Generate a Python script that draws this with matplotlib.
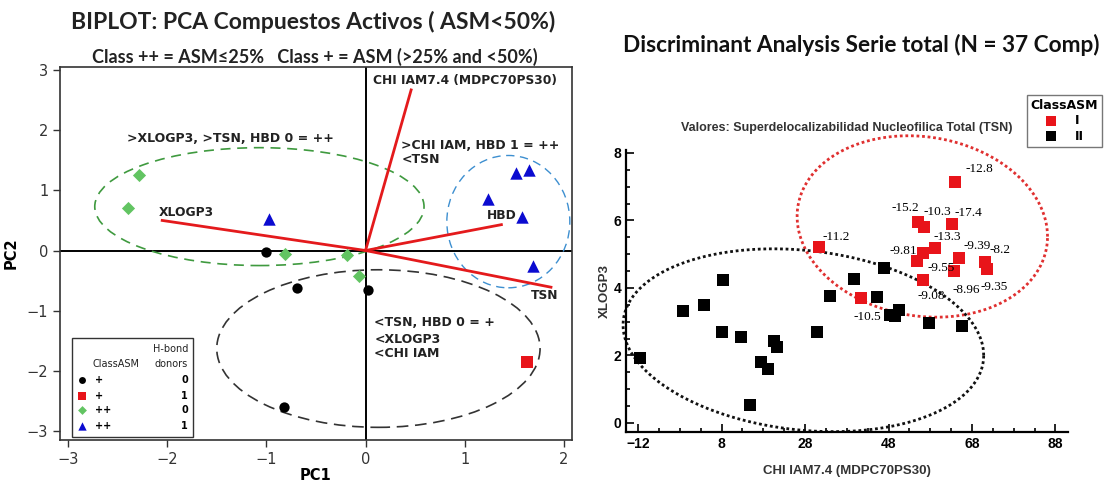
import numpy as np
import matplotlib.pyplot as plt
from matplotlib.patches import Ellipse, Rectangle
from matplotlib.ticker import FixedLocator

# PCA scores of the active compounds (PC1, PC2), split by class and H-bond donors
plus_hbd0_pc1 = [-1.00, -0.69, 0.02, -0.82]
plus_hbd0_pc2 = [-0.03, -0.63, -0.66, -2.60]
plus_hbd1_pc1 = [1.63]
plus_hbd1_pc2 = [-1.86]
pp_hbd0_pc1 = [-2.28, -2.39, -0.81, -0.19, -0.07]
pp_hbd0_pc2 = [1.26, 0.71, -0.05, -0.08, -0.43]
pp_hbd1_pc1 = [-0.97, 1.23, 1.52, 1.65, 1.58, 1.69]
pp_hbd1_pc2 = [0.53, 0.86, 1.29, 1.34, 0.55, -0.25]

# loading vectors
loading_names = ['CHI IAM7.4 (MDPC70PS30)', 'XLOGP3', 'HBD', 'TSN']
loading_pc1 = [0.46, -2.05, 1.37, 1.87]
loading_pc2 = [2.67, 0.50, 0.43, -0.61]

# discriminant analysis: class I (with TSN values) and class II
class1_chi = [64.0, 55.1, 56.6, 63.1, 31.4, 59.2, 56.3, 54.9, 65.0, 71.2, 71.7, 63.8, 56.3, 41.5]
class1_xlogp = [7.15, 5.96, 5.79, 5.90, 5.22, 5.19, 5.04, 4.81, 4.90, 4.78, 4.57, 4.51, 4.24, 3.71]
class1_tsn = ['-12.8', '-15.2', '-10.3', '-17.4', '-11.2', '-13.3', '-9.81', '-9.55',
              '-9.39', '-8.2', '-9.35', '-8.96', '-9.08', '-10.5']
class2_chi = [-11.5, -1.2, 3.8, 8.4, 8.1, 12.7, 17.5, 19.2, 20.6, 21.3, 14.9,
              30.9, 34.0, 39.8, 45.3, 46.8, 48.4, 50.4, 49.6, 57.8, 65.7]
class2_xlogp = [1.93, 3.32, 3.50, 4.24, 2.70, 2.55, 1.81, 1.60, 2.43, 2.26, 0.53,
                2.70, 3.77, 4.27, 3.74, 4.60, 3.20, 3.35, 3.18, 2.97, 2.88]

# label offsets (points) for the TSN values
tsn_offsets = [(7, 9), (-19, 10), (-1, 11), (2, 8), (2, 7), (-1, 8), (-24, 1.5), (7, -5),
               (3, 8), (3, 8), (-5, -13), (-1.5, -14), (-4, -12), (-6, -14)]

fig = plt.figure(figsize=(11.06, 4.86), dpi=100)

#%% biplot
ax = fig.add_axes([0.0543, 0.0947, 0.4627, 0.7673])
ax.set_xlim(-3.08, 2.08)
ax.set_ylim(-3.15, 3.05)
ax.axhline(0, color='black', lw=1.4, zorder=1)
ax.axvline(0, color='black', lw=1.4, zorder=1)

# group ellipses
ax.add_patch(Ellipse((-1.07, 0.73), 3.32, 1.96, fill=False, ls=(0, (6, 4)), lw=1.2,
                     color='#3f9a3f', zorder=2))
ax.add_patch(Ellipse((1.44, 0.48), 1.24, 2.20, fill=False, ls=(0, (6, 4)), lw=1.0,
                     color='#3d8fd0', zorder=2))
ax.add_patch(Ellipse((0.13, -1.63), 3.26, 2.62, fill=False, ls=(0, (7, 4)), lw=1.2,
                     color='#333333', zorder=2))

# loadings
for x, y in zip(loading_pc1, loading_pc2):
    ax.plot([0, x], [0, y], color='#e41a1c', lw=2, zorder=3)
label_pos = [(0.08, 2.82), (-2.08, 0.63), (1.22, 0.58), (1.67, -0.75)]
for name, (lx, ly) in zip(loading_names, label_pos):
    ax.text(lx, ly, name, fontsize=8.8, fontweight='bold', color='#222222',
            ha='left', va='center', zorder=4)

groups = [
    (plus_hbd0_pc1, plus_hbd0_pc2, 'o', 'black', '+', '0', 55),
    (plus_hbd1_pc1, plus_hbd1_pc2, 's', '#e8141a', '+', '1', 70),
    (pp_hbd0_pc1, pp_hbd0_pc2, 'D', '#62c462', '++', '0', 45),
    (pp_hbd1_pc1, pp_hbd1_pc2, '^', '#0b0bd0', '++', '1', 80),
]
for xs, ys, m, c, cls, hbd, s in groups:
    ax.scatter(xs, ys, marker=m, color=c, s=s, zorder=5, linewidths=0)

notes = [(-2.41, 1.87, '>XLOGP3, >TSN, HBD 0 = ++'),
         (0.36, 1.74, '>CHI IAM, HBD 1 = ++'),
         (0.36, 1.51, '<TSN'),
         (0.09, -1.19, '<TSN, HBD 0 = +'),
         (0.09, -1.48, '<XLOGP3'),
         (0.09, -1.72, '<CHI IAM')]
for nx, ny, t in notes:
    ax.text(nx, ny, t, fontsize=9, fontweight='bold', color='#222222', va='center')

# legend table
ax.add_patch(Rectangle((0.0234, 0.008), 0.2366, 0.265, transform=ax.transAxes,
                       fill=True, facecolor='white', edgecolor='#333333', lw=1, zorder=6))
ax.text(0.25, 0.244, 'H-bond', transform=ax.transAxes, fontsize=7, ha='right',
        va='center', zorder=7, color='#222222')
ax.text(0.064, 0.204, 'ClassASM', transform=ax.transAxes, fontsize=7, ha='left',
        va='center', zorder=7, color='#222222')
ax.text(0.25, 0.204, 'donors', transform=ax.transAxes, fontsize=7, ha='right',
        va='center', zorder=7, color='#222222')
row_y = [0.161, 0.118, 0.080, 0.038]
for (xs, ys, m, c, cls, hbd, s), ry in zip(groups, row_y):
    ax.scatter([0.043], [ry], marker=m, color=c, s=s * 0.45, transform=ax.transAxes,
               zorder=7, linewidths=0, clip_on=False)
    ax.text(0.068, ry, cls, transform=ax.transAxes, fontsize=7, va='center',
            fontweight='bold', zorder=7)
    ax.text(0.25, ry, hbd, transform=ax.transAxes, fontsize=7, va='center',
            ha='right', fontweight='bold', zorder=7)

ax.set_xticks([-3, -2, -1, 0, 1, 2])
ax.set_yticks([-3, -2, -1, 0, 1, 2, 3])
ax.tick_params(labelsize=10.5, colors='#333333', length=5, width=1)
for sp in ax.spines.values():
    sp.set_linewidth(1.2)
    sp.set_color('#333333')
ax.set_xlabel('PC1', fontsize=10.5, fontweight='bold', labelpad=1)
ax.set_ylabel('PC2', fontsize=10.5, fontweight='bold', labelpad=6)

fig.text(0.283, 0.955, 'BIPLOT: PCA Compuestos Activos ( ASM<50%)', fontsize=16.5,
         fontweight='bold', family='Lato', ha='center', va='center', color='#222222')
fig.text(0.285, 0.883, 'Class ++ = ASM\u226425%   Class + = ASM (>25% and <50%)', fontsize=13,
         fontweight='bold', family='Lato', ha='center', va='center', color='#222222')

#%% discriminant analysis
bx = fig.add_axes([0.566, 0.111, 0.4, 0.58])
bx.set_xlim(-14.9, 91.1)
bx.set_ylim(-0.27, 8.08)
for sp in ['top', 'right']:
    bx.spines[sp].set_visible(False)
for sp in ['left', 'bottom']:
    bx.spines[sp].set_linewidth(1.6)

t = np.linspace(0, 2 * np.pi, 400)
# tilted ellipses around each class
ex = 56.1 + 30.0 * np.cos(t)
ey = 5.82 + 2.67 * np.sin(t) - 0.30 * np.cos(t)
bx.plot(ex, ey, color='#e03030', lw=2, ls=(0, (1, 1)), clip_on=False, zorder=2)
ex = 27.6 + 43.2 * np.cos(t)
ey = 2.45 + 2.67 * np.sin(t) - 0.45 * np.cos(t)
bx.plot(ex, ey, color='#111111', lw=2, ls=(0, (1, 1)), clip_on=False, zorder=2)

bx.scatter(class2_chi, class2_xlogp, marker='s', s=85, color='black', linewidths=0,
           zorder=3, label='II')
bx.scatter(class1_chi, class1_xlogp, marker='s', s=85, color='#e8141a', linewidths=0,
           zorder=4, label='I')
for x, y, lab, off in zip(class1_chi, class1_xlogp, class1_tsn, tsn_offsets):
    bx.annotate(lab, (x, y), xytext=off, textcoords='offset points', fontsize=9.5,
                family='Liberation Serif', ha='left', va='center', zorder=5)

bx.set_xticks([-12, 8, 28, 48, 68, 88])
bx.set_yticks([0, 2, 4, 6, 8])
bx.xaxis.set_minor_locator(FixedLocator(np.arange(-12, 90, 5)))
bx.yaxis.set_minor_locator(FixedLocator(np.arange(0, 8.1, 0.5)))
bx.tick_params(which='both', direction='in', width=1.2)
bx.tick_params(which='major', length=6)
bx.tick_params(which='minor', length=3)
for lab in bx.get_xticklabels() + bx.get_yticklabels():
    lab.set_fontweight('bold')
    lab.set_fontsize(10)
    lab.set_family('Liberation Sans')
bx.set_xlabel('CHI IAM7.4 (MDPC70PS30)', fontsize=9.5, fontweight='bold',
              family='Liberation Sans', color='#333333', labelpad=10)
bx.set_ylabel('XLOGP3', fontsize=9.5, fontweight='bold', family='Liberation Sans',
              color='#333333', labelpad=2)
bx.text(0.5, 1.08, 'Valores: Superdelocalizabilidad Nucleofilica Total (TSN)',
        transform=bx.transAxes, fontsize=9, fontweight='bold', family='Liberation Sans',
        ha='center', va='center', color='#333333')

h, l = bx.get_legend_handles_labels()
leg = fig.legend(h[::-1], l[::-1], title='ClassASM', loc='upper left',
                 bbox_to_anchor=(1027 / 1106, 1 - 95 / 486), fancybox=False,
                 edgecolor='#555555', fontsize=9, title_fontsize=9,
                 handletextpad=1.4, borderpad=0.3, labelspacing=0.2, markerscale=0.8,
                 handlelength=1.0, borderaxespad=0)
leg.get_title().set_fontweight('bold')
for txt in leg.get_texts():
    txt.set_fontweight('bold')

fig.text(0.779, 0.907, 'Discriminant Analysis Serie total (N = 37 Comp)', fontsize=16.3,
         fontweight='bold', family='Lato', ha='center', va='center', color='#111111')

fig.savefig('out.png', dpi=100)
